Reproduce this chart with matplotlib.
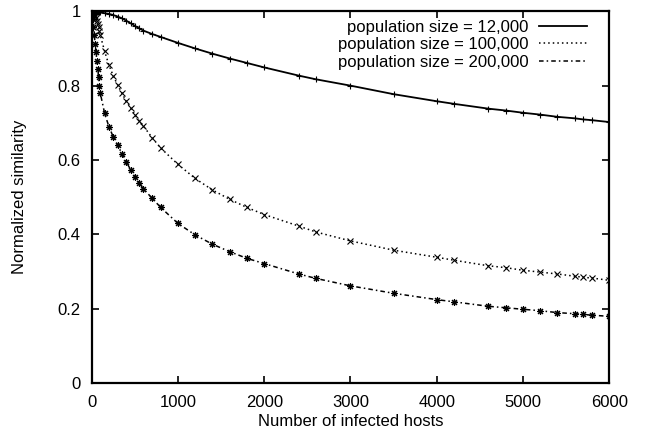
import matplotlib
matplotlib.use("Agg")
import matplotlib.pyplot as plt

plt.rcParams['font.family'] = ['Liberation Sans', 'DejaVu Sans']

# number of infected hosts (sample points)
hosts = [0, 10, 20, 30, 40, 50, 60, 70, 80, 90, 100, 150, 200, 250, 300, 350,
         400, 450, 500, 550, 600, 700, 800, 1000, 1200, 1400, 1600, 1800, 2000,
         2400, 2600, 3000, 3500, 4000, 4200, 4600, 4800, 5000, 5200, 5400,
         5600, 5700, 5800, 6000]

sim_12k = [1.0, 1.0, 1.0, 1.0, 1.0, 0.999, 0.999, 0.999, 0.998, 0.998, 0.997,
           0.995, 0.993, 0.990, 0.986, 0.981, 0.975, 0.968, 0.961, 0.954,
           0.948, 0.939, 0.931, 0.915, 0.900, 0.886, 0.873, 0.861, 0.849,
           0.827, 0.817, 0.800, 0.777, 0.758, 0.751, 0.738, 0.733, 0.727,
           0.722, 0.716, 0.712, 0.709, 0.707, 0.702]

sim_100k = [1.0, 0.999, 0.997, 0.993, 0.988, 0.982, 0.975, 0.966, 0.957, 0.946,
            0.935, 0.892, 0.855, 0.826, 0.802, 0.780, 0.758, 0.740, 0.722,
            0.705, 0.691, 0.660, 0.632, 0.588, 0.550, 0.519, 0.494, 0.472,
            0.453, 0.422, 0.406, 0.382, 0.357, 0.338, 0.330, 0.315, 0.310,
            0.303, 0.298, 0.293, 0.287, 0.284, 0.282, 0.276]

sim_200k = [1.0, 0.980, 0.958, 0.935, 0.912, 0.890, 0.866, 0.844, 0.822, 0.800,
            0.779, 0.725, 0.689, 0.662, 0.640, 0.617, 0.595, 0.574, 0.554,
            0.538, 0.522, 0.497, 0.472, 0.429, 0.398, 0.373, 0.353, 0.335,
            0.321, 0.293, 0.281, 0.261, 0.241, 0.224, 0.218, 0.206, 0.202,
            0.198, 0.194, 0.189, 0.186, 0.184, 0.182, 0.179]

labels = ['population size = 12,000', 'population size = 100,000',
          'population size = 200,000']

fig = plt.figure(figsize=(6.46, 4.36), dpi=100)
ax = fig.add_axes([0.142, 0.122, 0.801, 0.852])

# curves with markers
ax.plot(hosts, sim_12k, color='black', lw=1.3, ls='-', marker='+', ms=5, mew=0.8)
ax.plot(hosts, sim_100k, color='black', lw=1.1, ls=(0, (1, 2)), marker='x', ms=4, mew=0.8)
ax.plot(hosts, sim_200k, color='black', lw=1.1, ls=(0, (3, 2, 1, 2)), marker=(8, 2, 0), ms=5, mew=0.8)

# legend entries: lines only
h1, = ax.plot([], [], color='black', lw=1.3, ls='-')
h2, = ax.plot([], [], color='black', lw=1.1, ls=(0, (1, 2)))
h3, = ax.plot([], [], color='black', lw=1.1, ls=(0, (3, 2, 1, 2)))
ax.legend([h1, h2, h3], labels, loc='upper right', bbox_to_anchor=(0.957, 0.978),
          frameon=False, markerfirst=False, fontsize=12, handlelength=2.9,
          handletextpad=0.6, labelspacing=0.15, borderaxespad=0, borderpad=0)

ax.set_xlim(0, 6000)
ax.set_ylim(0, 1)
ax.set_xticks([0, 1000, 2000, 3000, 4000, 5000, 6000])
ax.set_yticks([0, 0.2, 0.4, 0.6, 0.8, 1])
ax.set_yticklabels(['0', '0.2', '0.4', '0.6', '0.8', '1'])
ax.tick_params(direction='in', top=True, right=True, length=5, width=1.2,
               labelsize=12)
ax.tick_params(axis='x', pad=9)
ax.tick_params(axis='y', pad=8)
for s in ax.spines.values():
    s.set_linewidth(1.6)

ax.set_xlabel('Number of infected hosts', fontsize=12, labelpad=3)
ax.set_ylabel('Normalized similarity', fontsize=12, labelpad=22)

fig.savefig('out.png', dpi=100)
